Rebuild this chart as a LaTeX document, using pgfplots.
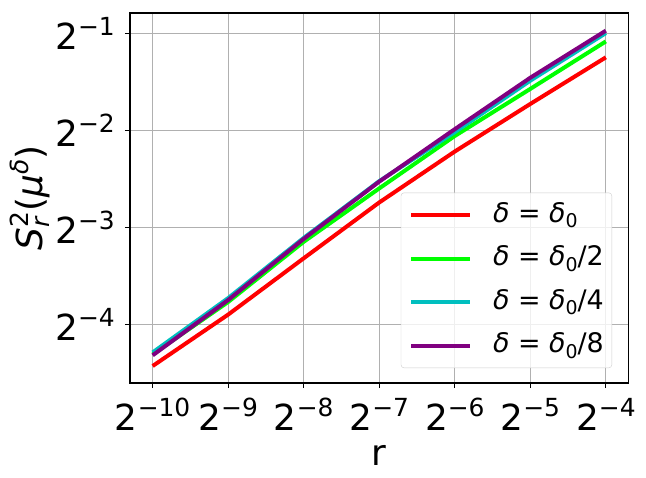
\documentclass[border=0pt]{standalone}
\usepackage{fontspec}
\setmainfont{DejaVu Sans}
\usepackage{pgfplots}
\pgfplotsset{compat=1.18}

\definecolor{cred}{HTML}{FF0000}
\definecolor{cgreen}{HTML}{00FF00}
\definecolor{ccyan}{HTML}{00BFBF}
\definecolor{cpurple}{HTML}{800080}
\definecolor{cgrid}{HTML}{B0B0B0}

% 2^{-k} in text font
\newcommand{\tpow}[1]{2\raisebox{14bp}{\fontsize{25}{25}\selectfont −#1}}
\newcommand{\dsub}[1]{\raisebox{-5.5bp}{\fontsize{19}{19}\selectfont #1}}
\newcommand{\dd}{{\itshape δ}}

\begin{document}
\begin{tikzpicture}
\begin{axis}[
  scale only axis, width=498.5bp, height=370bp,
  xmin=-10.3, xmax=-3.7, ymin=-4.605, ymax=-0.793,
  xtick={-10,-9,-8,-7,-6,-5,-4},
  xticklabels={\tpow{10},\tpow{9},\tpow{8},\tpow{7},\tpow{6},\tpow{5},\tpow{4}},
  ytick={-4,-3,-2,-1},
  yticklabels={\tpow{4},\tpow{3},\tpow{2},\tpow{1}},
  ticklabel style={font=\fontsize{36}{40}\selectfont},
  xticklabel style={anchor=north, inner sep=0pt, yshift=-10bp},
  yticklabel style={anchor=east, inner sep=0pt, xshift=-10bp},
  xtick pos=bottom, ytick pos=left, tick align=outside,
  major tick length=5bp, tick style={black, line width=1.1bp},
  axis line style={line width=1.1bp},
  grid=major, grid style={cgrid, line width=1.1bp},
  xlabel={r},
  xlabel style={font=\fontsize{36}{40}\selectfont, at={(axis description cs:0.5,0)}, anchor=base, yshift=-82bp, inner sep=0pt},
  ylabel={{\itshape S}\rlap{\raisebox{-7bp}{\fontsize{25}{25}\selectfont\itshape r}}\raisebox{14bp}{\fontsize{25}{25}\selectfont 2}({\itshape μ}\raisebox{14bp}{\fontsize{25}{25}\selectfont\itshape δ})},
  ylabel style={font=\fontsize{36}{40}\selectfont, at={(axis description cs:-0.1765,0.5)}, anchor=base, inner sep=0pt},
  legend style={at={(axis description cs:0.9669,0.0405)}, anchor=south east,
    font=\fontsize{27}{31}\selectfont, draw=black!20, fill=white, fill opacity=0.8, text opacity=1,
    rounded corners=3bp, inner xsep=8bp, inner ysep=9bp, row sep=17bp,
    nodes={inner sep=0pt, text height=20.5bp, text depth=6bp}},
  legend cell align=left,
  /tikz/every odd column/.append style={column sep=21bp},
  legend image code/.code={\draw[#1, line width=4bp] (0bp,0bp) -- (59bp,0bp);},
  every axis plot/.append style={line width=4bp, line join=round},
]
\addplot[cred] coordinates {(-10,-4.43) (-9,-3.90) (-8,-3.32) (-7,-2.745) (-6,-2.22) (-5,-1.73) (-4,-1.25)};
\addlegendentry{\dd{} = \dd\dsub{0}}
\addplot[cgreen] coordinates {(-10,-4.31) (-9,-3.77) (-8,-3.15) (-7,-2.60) (-6,-2.06) (-5,-1.575) (-4,-1.086)};
\addlegendentry{\dd{} = \dd\dsub{0}/2}
\addplot[ccyan] coordinates {(-10,-4.29) (-9,-3.73) (-8,-3.11) (-7,-2.525) (-6,-2.02) (-5,-1.49) (-4,-1.00)};
\addlegendentry{\dd{} = \dd\dsub{0}/4}
\addplot[cpurple] coordinates {(-10,-4.32) (-9,-3.75) (-8,-3.12) (-7,-2.53) (-6,-1.99) (-5,-1.46) (-4,-0.975)};
\addlegendentry{\dd{} = \dd\dsub{0}/8}
\end{axis}
\pgfresetboundingbox
\path (-130bp,-95bp) rectangle (516bp,383bp);
\end{tikzpicture}
\end{document}
